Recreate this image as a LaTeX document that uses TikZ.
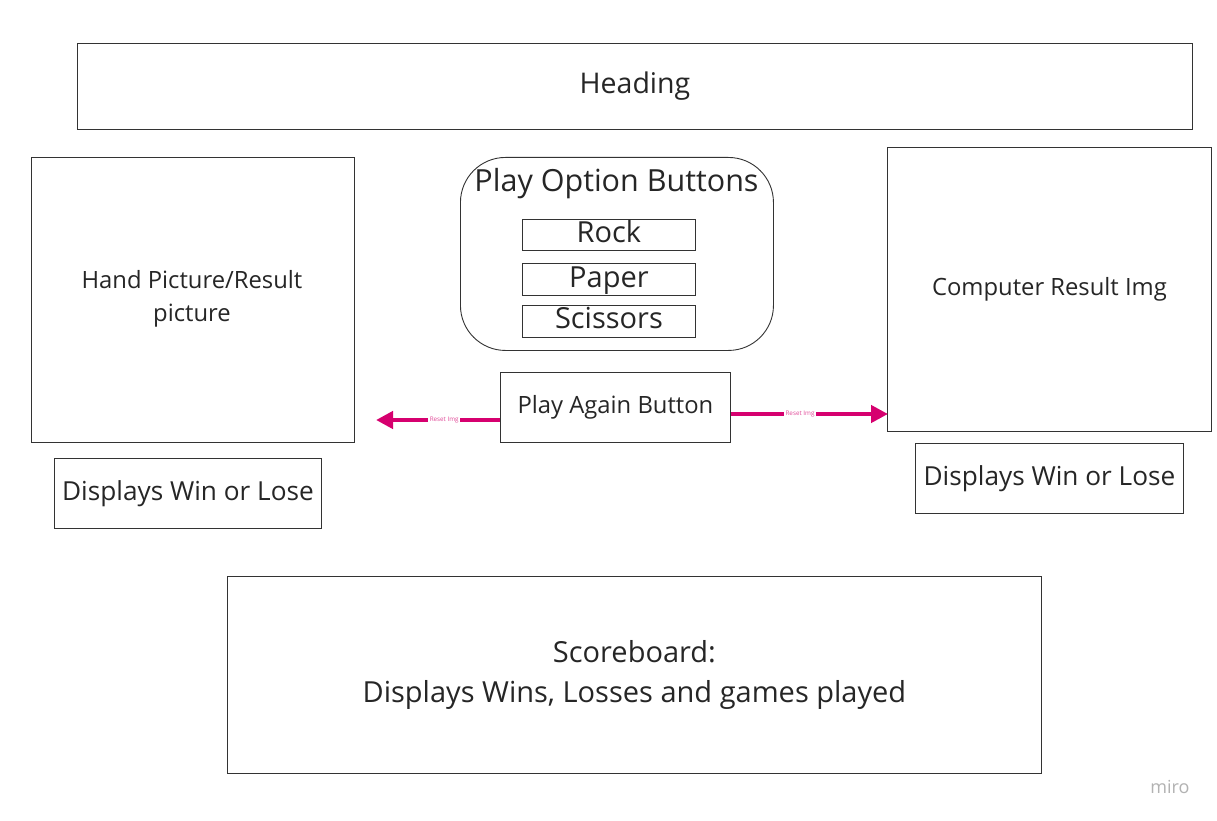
\documentclass[tikz,border=0pt]{standalone}
\usepackage{fontspec}
\setmainfont{Open Sans}
\usetikzlibrary{arrows.meta}
\definecolor{edge}{HTML}{333333}
\definecolor{arrowc}{HTML}{D6006F}
\begin{document}
\begin{tikzpicture}[x=1pt,y=-1pt,
  box/.style={draw=edge,line width=0.9pt,inner sep=0pt,anchor=north west,fill=white},
  lbl/.style={text=black!85,align=center,inner sep=0pt},
  conn/.style={draw=arrowc,line width=4.5pt,-{Triangle[length=17pt,width=17pt]}},
  tiny/.style={font=\fontsize{6.3}{7}\selectfont,text=arrowc!70,fill=white,inner sep=1.5pt}]
\useasboundingbox (0,0) rectangle (1217,821);
\fill[white] (0,0) rectangle (1217,821);
% Heading
\node[box,minimum width=1115pt,minimum height=86pt] (head) at (77,43) {};
\node[lbl,font=\fontsize{28.5}{32}\selectfont] at (head.center) {Heading};
% Hand picture
\node[box,minimum width=323pt,minimum height=285pt] (hand) at (31,157) {};
\node[lbl,font=\fontsize{23.8}{33}\selectfont] at (192,299) {Hand Picture/Result\\picture};
% Left win/lose
\node[box,minimum width=267pt,minimum height=70pt] (winl) at (54,458) {};
\node[lbl,font=\fontsize{26.2}{30}\selectfont] at (winl.center) {Displays Win or Lose};
% Play options
\node[box,rounded corners=45pt,minimum width=313pt,minimum height=193pt] (opts) at (460,157) {};
\node[lbl,font=\fontsize{30.5}{34}\selectfont] at (616.5,184) {Play Option Buttons};
\node[box,minimum width=173pt,minimum height=31pt] (rock) at (522,219) {};
\node[lbl,font=\fontsize{29}{32}\selectfont] at ([yshift=3pt]rock.center) {Rock};
\node[box,minimum width=173pt,minimum height=32pt] (paper) at (522,263) {};
\node[lbl,font=\fontsize{29}{32}\selectfont] at ([yshift=-1pt]paper.center) {Paper};
\node[box,minimum width=173pt,minimum height=32pt] (sciss) at (522,305) {};
\node[lbl,font=\fontsize{29}{32}\selectfont] at ([yshift=3pt]sciss.center) {Scissors};
% Play again
\node[box,minimum width=230pt,minimum height=70pt] (again) at (500,372) {};
\node[lbl,font=\fontsize{23.8}{26}\selectfont] at (again.center) {Play Again Button};
% Computer
\node[box,minimum width=324pt,minimum height=284pt] (comp) at (887,147) {};
\node[lbl,font=\fontsize{23.8}{26}\selectfont] at (comp.center) {Computer Result Img};
% Right win/lose
\node[box,minimum width=268pt,minimum height=70pt] (winr) at (915,443) {};
\node[lbl,font=\fontsize{26.2}{30}\selectfont] at (winr.center) {Displays Win or Lose};
% Scoreboard
\node[box,minimum width=814pt,minimum height=197pt] (score) at (227,576) {};
\node[lbl,font=\fontsize{29}{40}\selectfont] at (score.center) {Scoreboard:\\Displays Wins, Losses and games played};
% arrows
\coordinate (lend) at (376,420);
\coordinate (rend) at (888,414);
\draw[conn] (again.west |- 0,420) -- node[tiny,pos=0.45]{Reset Img} (lend);
\draw[conn] (again.east |- 0,414) -- node[tiny,pos=0.44]{Reset Img} (rend);
% logo
\node[text=black!30,font=\fontsize{18}{20}\selectfont,inner sep=0pt] (logo) at (1170,787) {miro};
\end{tikzpicture}
\end{document}
